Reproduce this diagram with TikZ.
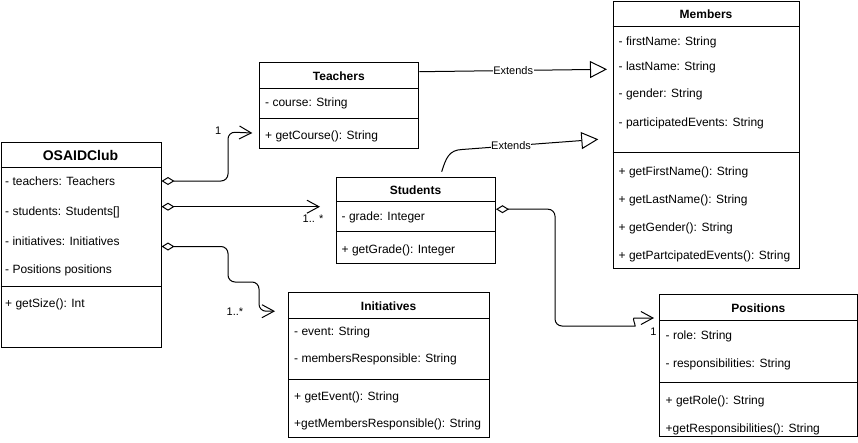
\documentclass[tikz,border=0pt]{standalone}
\usepackage{fontspec}
\setmainfont{Liberation Sans}
\usetikzlibrary{arrows.meta,calc}
\begin{document}
\begin{tikzpicture}[x=1pt,y=-1pt,
  box/.style={draw, line width=1pt, inner sep=0pt, anchor=north west},
  sepline/.style={line width=1pt},
  txt/.style={anchor=base west, inner sep=0pt, font=\fontsize{12}{14}\selectfont},
  ttl/.style={anchor=base, inner sep=0pt, font=\fontsize{12}{14}\selectfont\bfseries},
  lbl/.style={inner sep=0pt, font=\fontsize{11}{13}\selectfont},
  conn/.style={line width=1pt, rounded corners=7pt},
  agg/.style={conn, {Diamond[open,length=13pt,width=8pt]}-{Straight Barb[length=12pt,width=13pt]}},
  ext/.style={line width=1pt, -{Triangle[open,length=17pt,width=17pt]}},
  extlbl/.style={fill=white, inner sep=0.5pt, font=\fontsize{11}{13}\selectfont},
]
\fill[white] (0,0) rectangle (858,442);
\useasboundingbox (0,0) rectangle (858,442);

% OSAIDClub
\node[box, minimum width=160pt, minimum height=204.5pt] (osaid) at (0.5,142) {};
\draw[sepline] (osaid.west |- 0,167.5) -- (osaid.east |- 0,167.5);
\draw[sepline] (osaid.west |- 0,286) -- (osaid.east |- 0,286);
\node[ttl, font=\fontsize{14}{16}\selectfont\bfseries] (osaidt) at (80.5,160) {OSAIDClub};
\node[txt] (o1) at (5,185.3) {- teachers: Teachers};
\node[txt] (o2) at (5,215.3) {- students: Students[]};
\node[txt] (o3) at (5,245.3) {- initiatives: Initiatives};
\node[txt] (o4) at (5,273.3) {- Positions positions};
\node[txt] (o5) at (5,307.3) {+ getSize(): Int};

% Teachers
\node[box, minimum width=159pt, minimum height=86pt] (teachers) at (259.3,62.3) {};
\draw[sepline] (teachers.west |- 0,88.3) -- (teachers.east |- 0,88.3);
\draw[sepline] (teachers.west |- 0,118.3) -- (teachers.east |- 0,118.3);
\node[ttl] (teacherst) at (338.8,80) {Teachers};
\node[txt] (t1) at (265,106) {- course: String};
\node[txt] (t2) at (265,139.8) {+ getCourse(): String};

% Students
\node[box, minimum width=159pt, minimum height=86.6pt] (students) at (336,176.7) {};
\draw[sepline] (students.west |- 0,201.7) -- (students.east |- 0,201.7);
\draw[sepline] (students.west |- 0,231.7) -- (students.east |- 0,231.7);
\node[ttl] (studentst) at (415.5,194.3) {Students};
\node[txt] (s1) at (341.5,220) {- grade: Integer};
\node[txt] (s2) at (341.5,253.6) {+ getGrade(): Integer};

% Members
\node[box, minimum width=186.6pt, minimum height=267.3pt] (members) at (612.7,1) {};
\draw[sepline] (members.west |- 0,26) -- (members.east |- 0,26);
\draw[sepline] (members.west |- 0,152.7) -- (members.east |- 0,152.7);
\node[ttl] (memberst) at (706,18.3) {Members};
\node[txt] (m1) at (618.5,45) {- firstName: String};
\node[txt] (m2) at (618.5,70.3) {- lastName: String};
\node[txt] (m3) at (618.5,97.6) {- gender: String};
\node[txt] (m4) at (618.5,126) {- participatedEvents: String};
\node[txt] (m5) at (618.5,175) {+ getFirstName(): String};
\node[txt] (m6) at (618.5,203.3) {+ getLastName(): String};
\node[txt] (m7) at (618.5,231) {+ getGender(): String};
\node[txt] (m8) at (618.5,259.3) {+ getPartcipatedEvents(): String};

% Initiatives
\node[box, minimum width=200.7pt, minimum height=145pt] (initiatives) at (288.3,291.7) {};
\draw[sepline] (initiatives.west |- 0,318.3) -- (initiatives.east |- 0,318.3);
\draw[sepline] (initiatives.west |- 0,379) -- (initiatives.east |- 0,379);
\node[ttl] (initiativest) at (388.6,310) {Initiatives};
\node[txt] (i1) at (294,335.3) {- event: String};
\node[txt] (i2) at (294,362.6) {- membersResponsible: String};
\node[txt] (i3) at (294,400) {+ getEvent(): String};
\node[txt] (i4) at (294,427.6) {+getMembersResponsible(): String};

% Positions
\node[box, minimum width=198pt, minimum height=142pt] (positions) at (659.3,294.3) {};
\draw[sepline] (positions.west |- 0,320) -- (positions.east |- 0,320);
\draw[sepline] (positions.west |- 0,382.3) -- (positions.east |- 0,382.3);
\node[ttl] (positionst) at (758.3,312.6) {Positions};
\node[txt] (p1) at (665.5,339.3) {- role: String};
\node[txt] (p2) at (665.5,367) {- responsibilities: String};
\node[txt] (p3) at (665.5,404.3) {+ getRole(): String};
\node[txt] (p4) at (665.5,432) {+getResponsibilities(): String};

% Aggregations
\draw[agg] ([yshift=-39pt]osaid.north east) -| (228,132) -- ([xshift=-7pt,yshift=16.3pt]teachers.south west);
\node[lbl] (l1) at (218.3,130.5) {1};

\draw[agg] ([yshift=-64.7pt]osaid.north east) -- ([xshift=-16pt,yshift=-30pt]students.north west);
\node[lbl] (l2) at (313,218.5) {1.. *};

\draw[agg] ([yshift=-104.5pt]osaid.north east) -| (228,282) -| (259,311.2) -- ([xshift=-13.3pt,yshift=-19.5pt]initiatives.north west);
\node[lbl] (l3) at (235,311.7) {1..*};

\draw[agg] ([yshift=-32.5pt]students.north east) -| (555,326) -- (628,326) .. controls (636,326) and (632,318) .. (641,318) -- ([xshift=-5.3pt,yshift=-23.7pt]positions.north west);
\node[lbl] (l4) at (653.3,331.7) {1};

% Generalizations
\draw[ext] ([yshift=-9.4pt]teachers.north east) -- node[extlbl] (e1) {Extends} ([xshift=-5.7pt,yshift=-68.3pt]members.north west);
\draw[ext] ([xshift=105.7pt,yshift=5pt]students.north west) .. controls (446,158) and (449,150) .. (462,149.5) -- node[pos=0.36, extlbl] (e2) {Extends} ([xshift=-14.4pt,yshift=-138.3pt]members.north west);
\end{tikzpicture}
\end{document}
